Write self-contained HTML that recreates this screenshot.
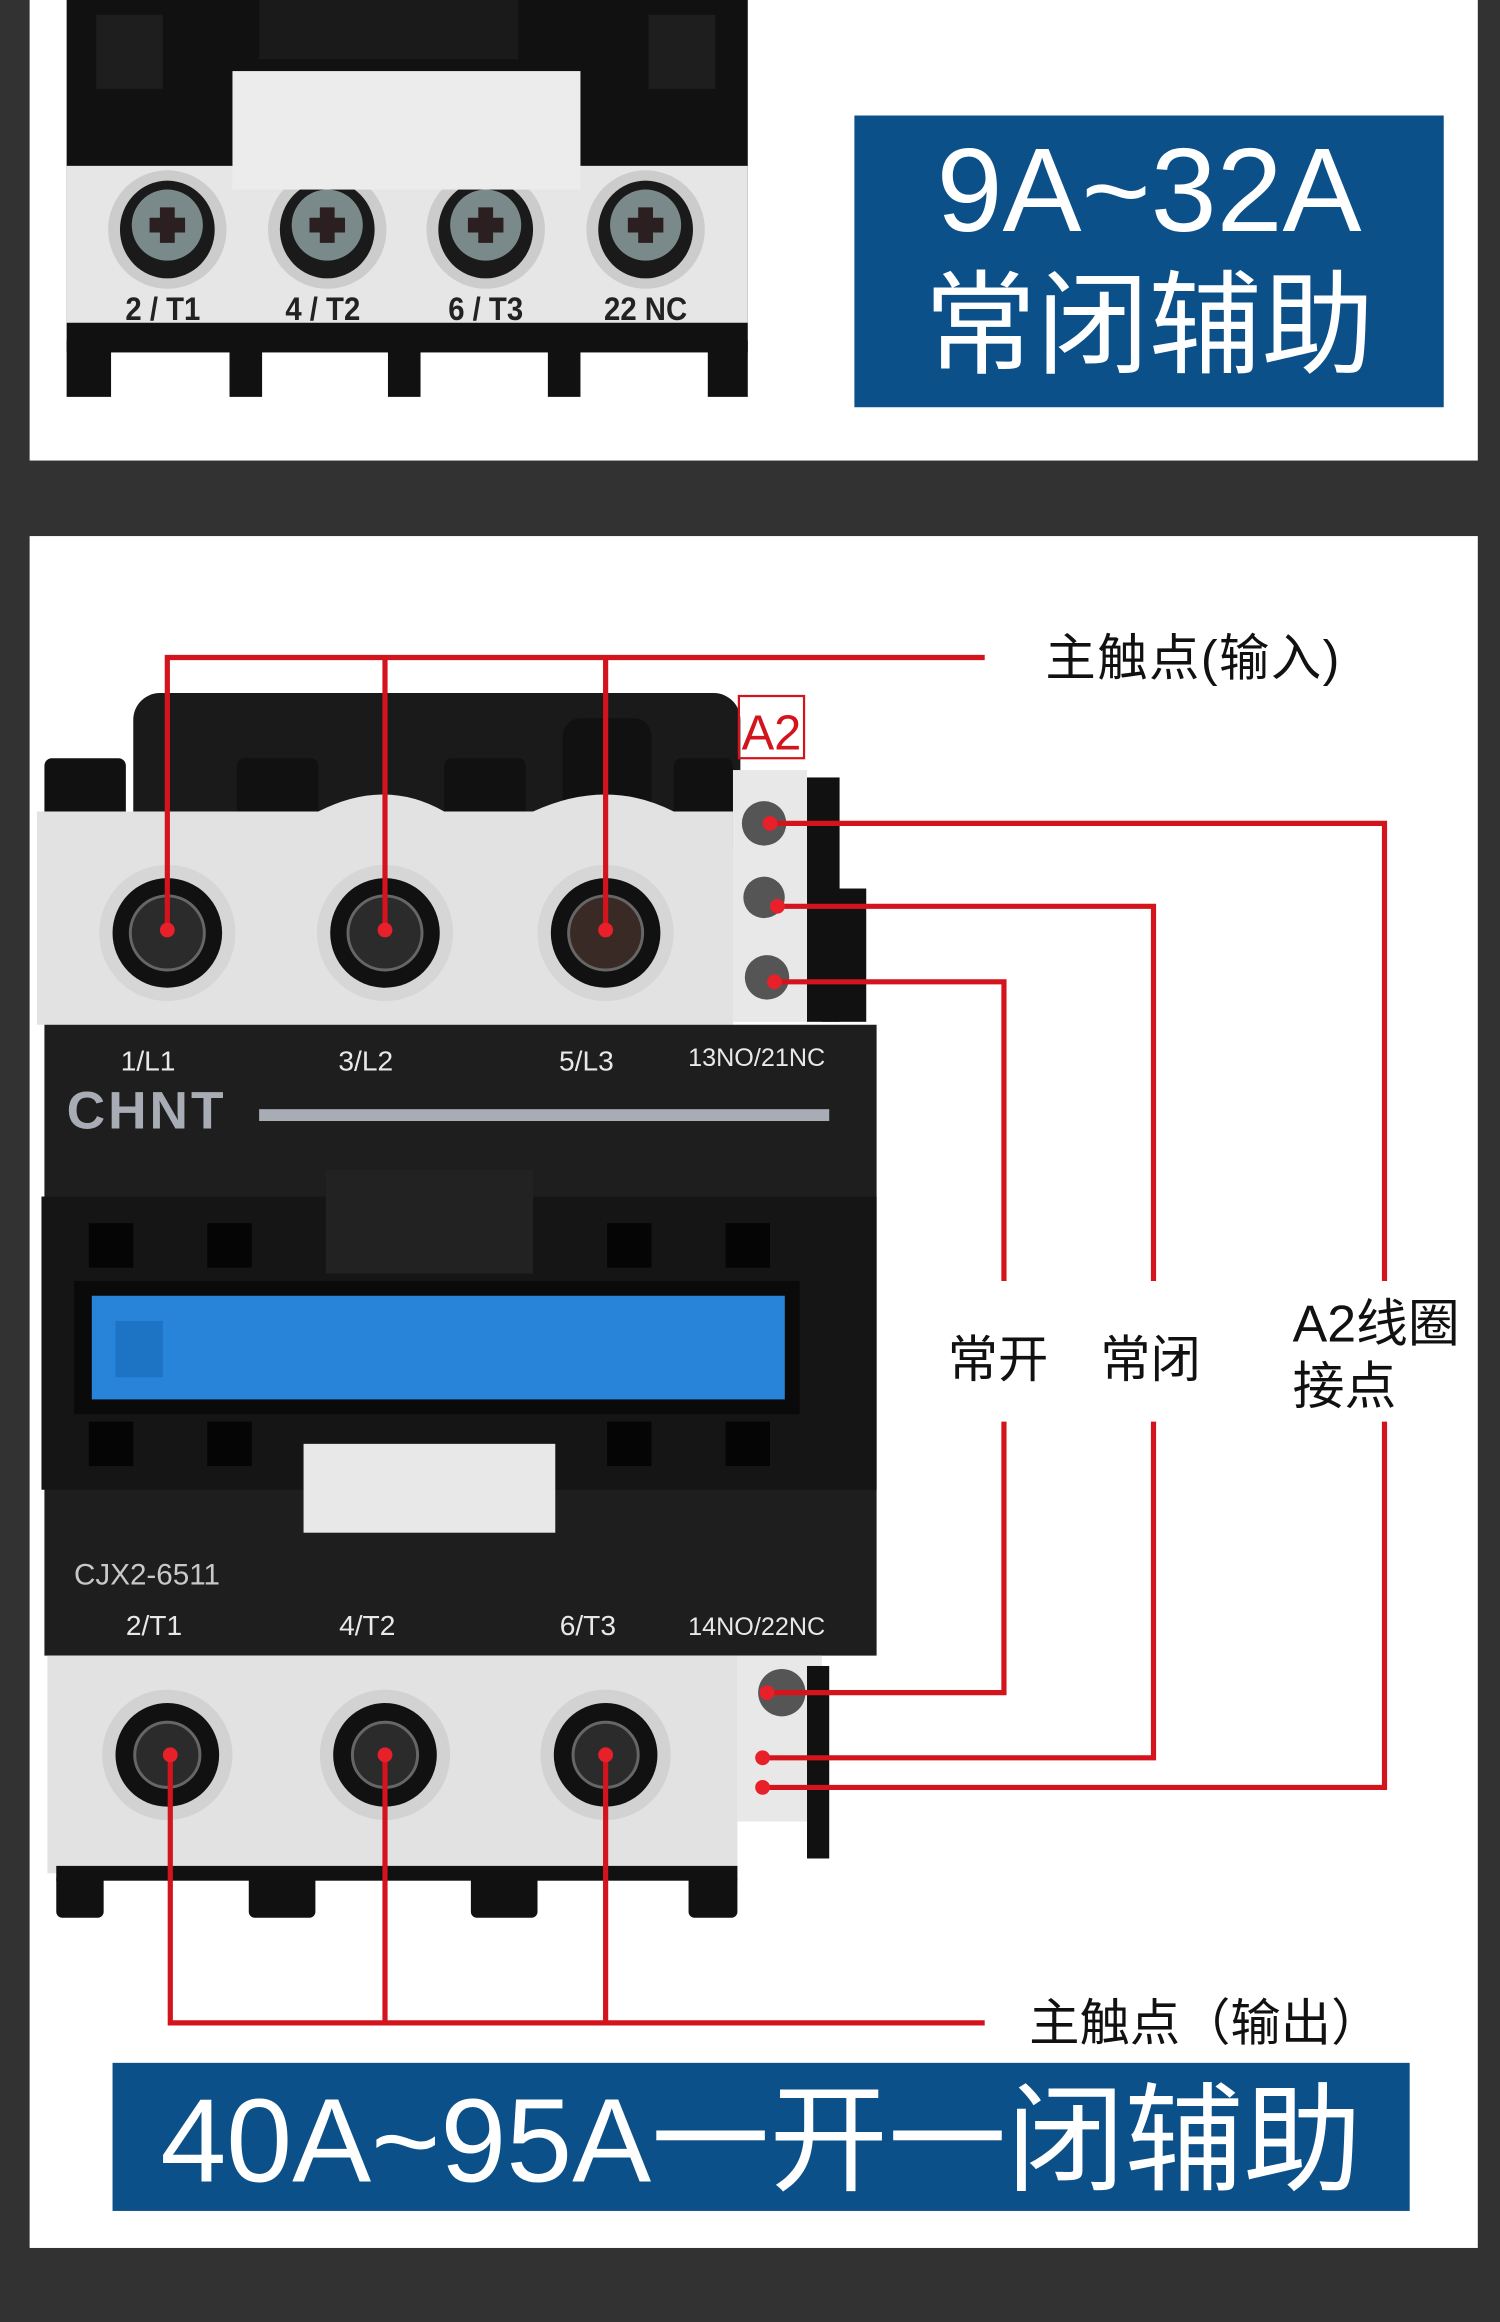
<!DOCTYPE html>
<html><head><meta charset="utf-8"><style>
html,body{margin:0;padding:0;background:#323232;}
svg{display:block}
text{font-family:"Liberation Sans","Noto Sans CJK SC",sans-serif}
</style></head><body>
<svg width="1500" height="2322" viewBox="0 0 1013 1568" preserveAspectRatio="none" xmlns="http://www.w3.org/2000/svg">
<rect x="0" y="0" width="1013" height="1568" fill="#323232"/>
<!-- top panel -->
<rect x="20" y="0" width="978" height="311" fill="#fff"/>
<rect x="45" y="0" width="460" height="218" fill="#111"/>
<rect x="65" y="10" width="45" height="50" fill="#1e1e1e"/>
<rect x="438" y="10" width="45" height="50" fill="#1e1e1e"/>
<rect x="175" y="0" width="175" height="40" fill="#1a1a1a"/>
<rect x="45" y="112" width="460" height="106" fill="#e6e6e6"/>
<rect x="157" y="48" width="235" height="80" fill="#ececec"/>
<g fill="#111">
<rect x="45" y="218" width="460" height="20"/>
<rect x="45" y="230" width="30" height="38"/><rect x="155" y="230" width="22" height="38"/>
<rect x="262" y="230" width="22" height="38"/><rect x="370" y="230" width="22" height="38"/>
<rect x="478" y="230" width="27" height="38"/>
</g>
<g>
<ellipse cx="113" cy="155" rx="40" ry="40" fill="#ccc"/><ellipse cx="113" cy="155" rx="32" ry="33" fill="#1a1a1a"/><circle cx="113" cy="152" r="24" fill="#7a8a8a"/><path d="M101 152h24M113 140v24" stroke="#2b1f22" stroke-width="10"/>
<ellipse cx="221" cy="155" rx="40" ry="40" fill="#ccc"/><ellipse cx="221" cy="155" rx="32" ry="33" fill="#1a1a1a"/><circle cx="221" cy="152" r="24" fill="#7a8a8a"/><path d="M209 152h24M221 140v24" stroke="#2b1f22" stroke-width="10"/>
<ellipse cx="328" cy="155" rx="40" ry="40" fill="#ccc"/><ellipse cx="328" cy="155" rx="32" ry="33" fill="#1a1a1a"/><circle cx="328" cy="152" r="24" fill="#7a8a8a"/><path d="M316 152h24M328 140v24" stroke="#2b1f22" stroke-width="10"/>
<ellipse cx="436" cy="155" rx="40" ry="40" fill="#ccc"/><ellipse cx="436" cy="155" rx="32" ry="33" fill="#1a1a1a"/><circle cx="436" cy="152" r="24" fill="#7a8a8a"/><path d="M424 152h24M436 140v24" stroke="#2b1f22" stroke-width="10"/>
</g>
<rect x="157" y="112" width="235" height="16" fill="#ececec"/>
<g font-size="22" font-weight="bold" fill="#222" text-anchor="middle">
<text x="110" y="216" transform="translate(110 0) scale(0.9 1) translate(-110 0)">2 / T1</text>
<text x="218" y="216" transform="translate(218 0) scale(0.9 1) translate(-218 0)">4 / T2</text>
<text x="328" y="216" transform="translate(328 0) scale(0.9 1) translate(-328 0)">6 / T3</text>
<text x="436" y="216" transform="translate(436 0) scale(0.9 1) translate(-436 0)">22 NC</text>
</g>
<rect x="577" y="78" width="398" height="197" fill="#0b5089"/>
<text x="776" y="156" font-size="80" fill="#fff" text-anchor="middle">9A~32A</text>
<text x="776" y="246" font-size="76" fill="#fff" text-anchor="middle">常闭辅助</text>

<!-- second panel -->
<rect x="20" y="362" width="978" height="1156" fill="#fff"/>
<rect x="90" y="468" width="410" height="110" rx="18" fill="#1a1a1a"/>
<g fill="#111">
<rect x="30" y="512" width="55" height="45" rx="5"/><rect x="160" y="512" width="55" height="45" rx="5"/>
<rect x="300" y="512" width="55" height="45" rx="5"/><rect x="380" y="485" width="60" height="70" rx="12"/>
<rect x="455" y="512" width="40" height="45" rx="5"/>
</g>
<path d="M25 548 L215 548 Q260 525 300 548 L360 548 Q410 525 455 548 L495 548 L495 692 L25 692 Z" fill="#e2e2e2"/>
<rect x="495" y="520" width="50" height="170" fill="#e8e8e8"/>
<rect x="545" y="525" width="22" height="165" fill="#111"/>
<rect x="555" y="600" width="30" height="90" fill="#111"/>
<g>
<circle cx="113" cy="630" r="46" fill="#d6d6d6"/><circle cx="113" cy="630" r="37" fill="#111"/><circle cx="113" cy="630" r="25" fill="#2b2b2b" stroke="#666" stroke-width="2"/>
<circle cx="260" cy="630" r="46" fill="#d6d6d6"/><circle cx="260" cy="630" r="37" fill="#111"/><circle cx="260" cy="630" r="25" fill="#2b2b2b" stroke="#666" stroke-width="2"/>
<circle cx="409" cy="630" r="46" fill="#d6d6d6"/><circle cx="409" cy="630" r="37" fill="#111"/><circle cx="409" cy="630" r="25" fill="#3a2a25" stroke="#666" stroke-width="2"/>
<circle cx="516" cy="556" r="15" fill="#555"/><circle cx="516" cy="606" r="14" fill="#555"/><circle cx="518" cy="660" r="15" fill="#555"/>
</g>
<rect x="30" y="692" width="562" height="426" fill="#1e1e1e"/>
<g font-size="19" fill="#e8e8e8" text-anchor="middle">
<text x="100" y="723">1/L1</text><text x="247" y="723">3/L2</text><text x="396" y="723">5/L3</text>
<text x="511" y="720" font-size="17">13NO/21NC</text>
<text x="104" y="1104">2/T1</text><text x="248" y="1104">4/T2</text><text x="397" y="1104">6/T3</text>
<text x="511" y="1104" font-size="17">14NO/22NC</text>
</g>
<text x="45" y="762" font-size="36" font-weight="bold" fill="#a8adb5" letter-spacing="2">CHNT</text>
<rect x="175" y="749" width="385" height="8" fill="#a8adb5"/>
<rect x="28" y="808" width="564" height="198" fill="#151515"/>
<rect x="220" y="790" width="140" height="70" fill="#222"/>
<g fill="#050505">
<rect x="60" y="826" width="30" height="30"/><rect x="140" y="826" width="30" height="30"/><rect x="410" y="826" width="30" height="30"/><rect x="490" y="826" width="30" height="30"/>
<rect x="60" y="960" width="30" height="30"/><rect x="140" y="960" width="30" height="30"/><rect x="410" y="960" width="30" height="30"/><rect x="490" y="960" width="30" height="30"/>
</g>
<rect x="50" y="865" width="490" height="90" fill="#0a0a0a"/>
<rect x="62" y="875" width="468" height="70" fill="#2784d8"/>
<rect x="78" y="892" width="32" height="38" fill="#1e74c4"/>
<rect x="205" y="975" width="170" height="60" fill="#e8e8e8"/>
<text x="50" y="1070" font-size="20" fill="#c8c8c8">CJX2-6511</text>
<rect x="32" y="1118" width="466" height="147" fill="#e2e2e2"/>
<rect x="498" y="1118" width="57" height="112" fill="#e8e8e8"/>
<rect x="545" y="1125" width="15" height="130" fill="#111"/>
<g fill="#111">
<rect x="38" y="1260" width="460" height="10"/>
<rect x="38" y="1265" width="32" height="30" rx="4"/><rect x="168" y="1265" width="45" height="30" rx="4"/>
<rect x="318" y="1265" width="45" height="30" rx="4"/><rect x="465" y="1265" width="33" height="30" rx="4"/>
</g>
<g>
<circle cx="113" cy="1185" r="44" fill="#d2d2d2"/><circle cx="113" cy="1185" r="35" fill="#111"/><circle cx="113" cy="1185" r="22" fill="#2b2b2b" stroke="#666" stroke-width="2"/>
<circle cx="260" cy="1185" r="44" fill="#d2d2d2"/><circle cx="260" cy="1185" r="35" fill="#111"/><circle cx="260" cy="1185" r="22" fill="#2b2b2b" stroke="#666" stroke-width="2"/>
<circle cx="409" cy="1185" r="44" fill="#d2d2d2"/><circle cx="409" cy="1185" r="35" fill="#111"/><circle cx="409" cy="1185" r="22" fill="#2b2b2b" stroke="#666" stroke-width="2"/>
<circle cx="528" cy="1143" r="16" fill="#555"/>
</g>
<g stroke="#d4141c" stroke-width="3.5" fill="none">
<path d="M113 628 V444 H665 M260 628 V444 M409 628 V444"/>
<path d="M115 1185 V1366 H665 M260 1185 V1366 M409 1185 V1366"/>
<path d="M520 556 H935 V865 M935 960 V1207 H515"/>
<path d="M525 612 H779 V865 M779 960 V1187 H515"/>
<path d="M523 663 H678 V865 M678 960 V1143 H518"/>
</g>
<g fill="#e8202a">
<circle cx="113" cy="628" r="5"/><circle cx="260" cy="628" r="5"/><circle cx="409" cy="628" r="5"/>
<circle cx="115" cy="1185" r="5"/><circle cx="260" cy="1185" r="5"/><circle cx="409" cy="1185" r="5"/>
<circle cx="520" cy="556" r="5"/><circle cx="525" cy="612" r="5"/><circle cx="523" cy="663" r="5"/>
<circle cx="518" cy="1143" r="5"/><circle cx="515" cy="1187" r="5"/><circle cx="515" cy="1207" r="5"/>
</g>
<rect x="499" y="470" width="44" height="42" fill="none" stroke="#d4141c" stroke-width="1.5"/>
<text x="521" y="506" font-size="33" fill="#d4141c" text-anchor="middle">A2</text>
<g font-size="34" fill="#111">
<text x="706" y="456" letter-spacing="1">主触点(输入)</text>
<text x="640" y="930">常开</text><text x="743" y="930">常闭</text>
<text x="873" y="906" font-size="35">A2线圈</text><text x="873" y="948" font-size="35">接点</text>
<text x="695" y="1378">主触点（输出）</text>
</g>
<rect x="76" y="1393" width="876" height="100" fill="#0b5089"/>
<text x="514" y="1473" font-size="80" fill="#fff" text-anchor="middle">40A~95A一开一闭辅助</text>
</svg>
</body></html>
